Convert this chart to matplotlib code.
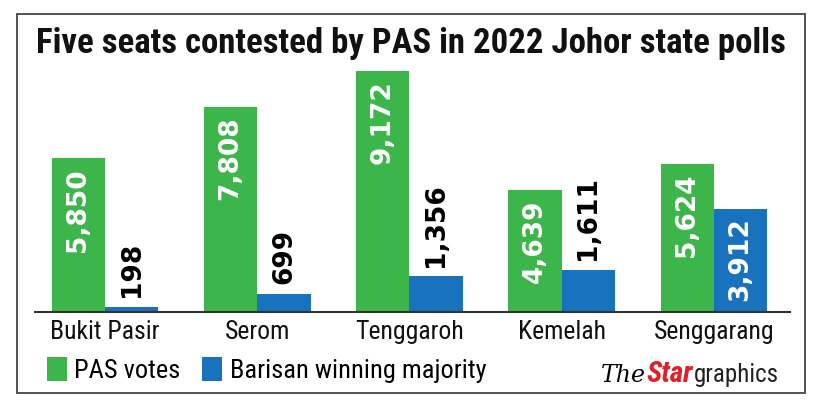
import numpy as np
import matplotlib.pyplot as plt
from matplotlib import font_manager
from matplotlib.patches import Rectangle

seats = ['Bukit Pasir', 'Serom', 'Tenggaroh', 'Kemelah', 'Senggarang']
pas_votes = [5850, 7808, 9172, 4639, 5624]
bn_majority = [198, 699, 1356, 1611, 3912]

green = '#3cb54a'
blue = '#1872bd'

installed = set(f.name for f in font_manager.fontManager.ttflist)


def pick(*names):
    for n in names:
        if n in installed:
            return n
    return 'DejaVu Sans'


narrow = pick('Roboto Condensed', 'Liberation Sans Narrow', 'DejaVu Sans Condensed', 'Roboto')

fig = plt.figure(figsize=(8.13, 4.08), dpi=100)
W, H = 813, 408
ax = fig.add_axes([35 / W, 1 - 312 / H, (790 - 35) / W, (312 - 60) / H])

x = np.arange(len(seats))
bw = 0.35
g = ax.bar(x - bw / 2, pas_votes, bw, color=green, label='PAS votes')
b = ax.bar(x + bw / 2, bn_majority, bw, color=blue, label='Barisan winning majority')

ax.set_xlim(-0.46, 4.5)
ax.set_ylim(0, 9590)

# value labels
for rect, v in zip(g, pas_votes):
    ax.annotate(f'{v:,}', (rect.get_x() + rect.get_width() / 2, v),
                xytext=(0, -7), textcoords='offset points', rotation=90,
                ha='center', va='top', color='white', fontsize=19, fontweight='bold')
for rect, v in zip(b, bn_majority):
    if v > 3000:
        ax.annotate(f'{v:,}', (rect.get_x() + rect.get_width() / 2, v),
                    xytext=(0, -6), textcoords='offset points', rotation=90,
                    ha='center', va='top', color='white', fontsize=19, fontweight='bold')
    else:
        ax.annotate(f'{v:,}', (rect.get_x() + rect.get_width() / 2, v),
                    xytext=(0, 7), textcoords='offset points', rotation=90,
                    ha='center', va='bottom', color='black', fontsize=19, fontweight='bold')

for s in ['top', 'right', 'left']:
    ax.spines[s].set_visible(False)
ax.spines['bottom'].set_color('#333333')
ax.spines['bottom'].set_linewidth(1.5)
ax.set_yticks([])
ax.set_xticks(x)
ax.set_xticklabels(seats, fontsize=18.5, family=narrow, color='#111111')
ax.tick_params(axis='x', length=0, pad=6)

fig.text(411 / W, 1 - 44 / H, 'Five seats contested by PAS in 2022 Johor state polls',
         ha='center', va='center', fontsize=25, fontweight='bold', family=narrow,
         color='#111111')

fig.legend(handles=[g, b], loc='center left', bbox_to_anchor=(23 / W, 1 - 370 / H),
           ncol=2, frameon=False, prop={'family': narrow, 'size': 19},
           handlelength=0.75, handleheight=1.0, handletextpad=0.3, columnspacing=0.8)

# logo
base = 1 - 382 / H
t1 = fig.text(0, base, 'The', fontsize=17, family='DejaVu Serif',
              style='italic', color='black', va='baseline')
t2 = fig.text(0, base, 'Star', fontsize=21, fontweight='bold', style='italic',
              family=narrow, color='#e11f26', va='baseline')
t3 = fig.text(0, base, 'graphics', fontsize=18, family=narrow, color='#222222', va='baseline')
fig.canvas.draw()
r = fig.canvas.get_renderer()
w1 = t1.get_window_extent(r).width
w2 = t2.get_window_extent(r).width
w3 = t3.get_window_extent(r).width
x0 = 779 - (w1 + w2 + w3 + 1)
t1.set_position((x0 / W, base))
t2.set_position(((x0 + w1) / W, base))
t3.set_position(((x0 + w1 + w2 + 1) / W, base))

fig.patches.append(Rectangle((17 / W, 1 - 393 / H), (805 - 17) / W, (393 - 14) / H,
                             transform=fig.transFigure, fill=False,
                             edgecolor='#444444', linewidth=1.3))

fig.savefig('out.png', dpi=100, facecolor='white')
